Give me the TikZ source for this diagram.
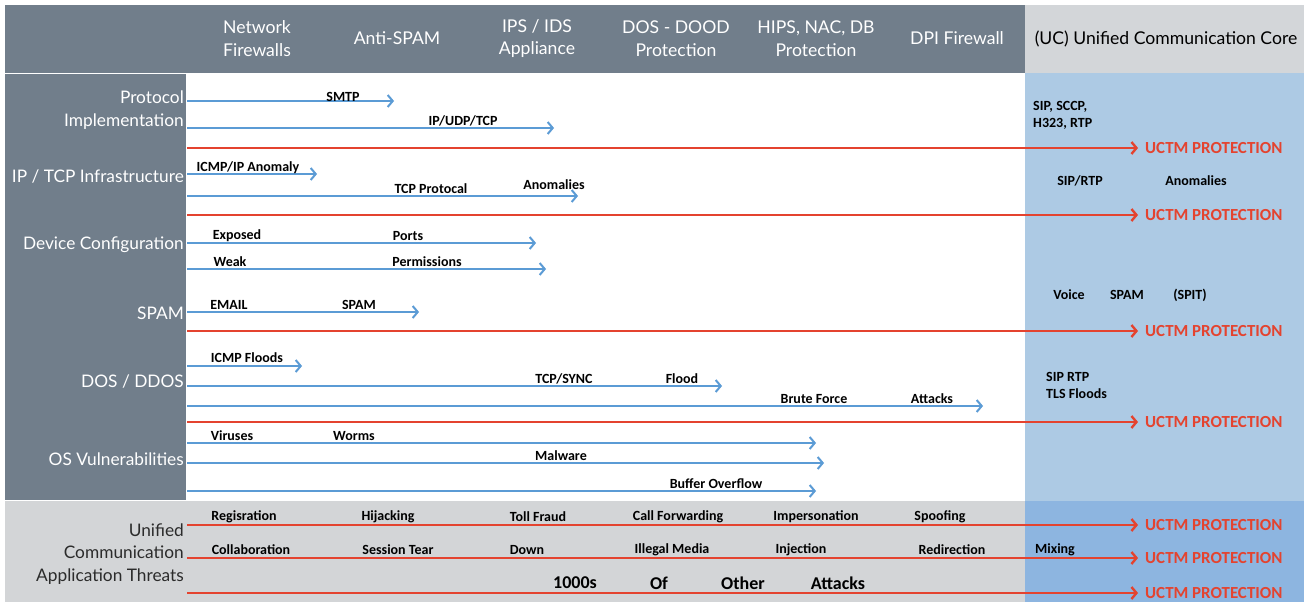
\documentclass[tikz,border=0pt]{standalone}
\usepackage{fontspec}
\setmainfont{Lato}
\newfontfamily\lblfont{Carlito}
\usetikzlibrary{arrows.meta}
\definecolor{hdrgrey}{HTML}{717E8B}
\definecolor{ucgrey}{HTML}{D3D6D9}
\definecolor{ucblue}{HTML}{ADCAE4}
\definecolor{botgrey}{HTML}{D3D5D7}
\definecolor{botblue}{HTML}{8DB5E0}
\definecolor{arrblue}{HTML}{5B9BD5}
\definecolor{arrred}{HTML}{E4432F}
\definecolor{txtdark}{HTML}{2B2B2B}
\begin{document}
\begin{tikzpicture}[x=1pt,y=-1pt,
  hd/.style={text=white,font=\fontsize{17.6}{22.5}\selectfont,align=center,inner sep=0pt},
  lf/.style={text=white,font=\fontsize{17.3}{22.5}\selectfont,align=right,anchor=east,inner sep=0pt},
  lfd/.style={lf,text=txtdark},
  lb/.style={text=black,font=\lblfont\bfseries\fontsize{14}{17}\selectfont,inner sep=0pt},
  lbl/.style={lb,anchor=west,align=left},
  lbbig/.style={lb,font=\lblfont\bfseries\fontsize{18}{20}\selectfont},
  uctm/.style={text=arrred,font=\lblfont\bfseries\fontsize{16.9}{19}\selectfont,anchor=west,inner sep=0pt},
  bluearrow/.style={draw=arrblue,line width=2pt,-{Straight Barb[length=5pt,width=12pt,line width=2pt]}},
  redarrow/.style={draw=arrred,line width=2.4pt,-{Straight Barb[length=5pt,width=12pt,line width=2.4pt]}}]
\useasboundingbox (0,0) rectangle (1304,602);
\fill[white] (0,0) rectangle (1304,602);
% backgrounds
\fill[hdrgrey] (5,5) rectangle (1025,73);
\fill[ucgrey] (1025,5) rectangle (1304,73);
\fill[hdrgrey] (5,74) rectangle (186,500);
\fill[ucblue] (1025,73) rectangle (1304,501);
\fill[botgrey] (5,501) rectangle (1025,602);
\fill[botblue] (1025,501) rectangle (1304,602);
% header
\node[hd] (h1) at (257,38.5) {Network\\Firewalls};
\node[hd] (h2) at (397,38.5) {Anti-SPAM};
\node[hd] (h3) at (537,38.5) {IPS / IDS\\Appliance};
\node[hd] (h4) at (676,38.5) {DOS - DOOD\\Protection};
\node[hd] (h5) at (816,38.5) {HIPS, NAC, DB\\Protection};
\node[hd] (h6) at (957,38.5) {DPI Firewall};
\node[hd,text=black] (h7) at (1166,38.5) {(UC) Unified Communication Core};
% left labels
\node[lf] (l1) at (184,110) {Protocol\\Implementation};
\node[lf] (l2) at (184,177) {IP / TCP Infrastructure};
\node[lf] (l3) at (184,245) {Device Configuration};
\node[lf] (l4) at (184,313) {SPAM};
\node[lf] (l5) at (184,382) {DOS / DDOS};
\node[lf] (l6) at (184,459) {OS Vulnerabilities};
\node[lfd] (l7) at (184,554) {Unified\\Communication\\Application Threats};
% start and end coordinates
\coordinate (s1) at (187,101); \coordinate (e1) at (394,101);
\coordinate (s2) at (187,128); \coordinate (e2) at (554,128);
\coordinate (s3) at (187,174); \coordinate (e3) at (317,174);
\coordinate (s4) at (187,196); \coordinate (e4) at (578,196);
\coordinate (s5) at (187,243); \coordinate (e5) at (536,243);
\coordinate (s6) at (187,269); \coordinate (e6) at (546,269);
\coordinate (s7) at (187,312); \coordinate (e7) at (419,312);
\coordinate (s8) at (187,366); \coordinate (e8) at (302,366);
\coordinate (s9) at (187,386); \coordinate (e9) at (722,386);
\coordinate (s10) at (187,406); \coordinate (e10) at (983,406);
\coordinate (s11) at (187,443); \coordinate (e11) at (816,443);
\coordinate (s12) at (187,463); \coordinate (e12) at (824,463);
\coordinate (s13) at (187,491); \coordinate (e13) at (816,491);
\foreach \i in {1,...,13} {\draw[bluearrow] (s\i) -- (e\i);}
% arrow labels
\node[lb] (t1) at (343,97) {SMTP};
\node[lb] (t2) at (463,121) {IP/UDP/TCP};
\node[lb] (t3) at (248,168) {ICMP/IP Anomaly};
\node[lb] (t4) at (431,189) {TCP Protocal};
\node[lb] (t5) at (554,185) {Anomalies};
\node[lb] (t6) at (237,236) {Exposed};
\node[lb] (t7) at (408,236) {Ports};
\node[lb] (t8) at (230,262) {Weak};
\node[lb] (t9) at (427,262) {Permissions};
\node[lb] (t10) at (229,305) {EMAIL};
\node[lb] (t11) at (359,305) {SPAM};
\node[lb] (t12) at (247,358) {ICMP Floods};
\node[lb] (t13) at (564,379) {TCP/SYNC};
\node[lb] (t14) at (682,379) {Flood};
\node[lb] (t15) at (814,399) {Brute Force};
\node[lb] (t16) at (932,399) {Attacks};
\node[lb] (t17) at (232,436) {Viruses};
\node[lb] (t18) at (354,436) {Worms};
\node[lb] (t19) at (561,456) {Malware};
\node[lb] (t20) at (716,484) {Buffer Overflow};
% UC column labels
\node[lbl] (c1) at (1033,115) {SIP, SCCP,\\H323, RTP};
\node[lb] (c2) at (1080,181) {SIP/RTP};
\node[lb] (c3) at (1196,181) {Anomalies};
\node[lb] (c4) at (1069,295) {Voice};
\node[lb] (c5) at (1127,295) {SPAM};
\node[lb] (c6) at (1190,295) {(SPIT)};
\node[lbl] (c7) at (1046,385) {SIP RTP\\TLS Floods};
% bottom labels
\node[lb] (b1) at (244,517) {Regisration};
\node[lb] (b2) at (388,517) {Hijacking};
\node[lb] (b3) at (538,517) {Toll Fraud};
\node[lb] (b4) at (678,517) {Call Forwarding};
\node[lb] (b5) at (816,517) {Impersonation};
\node[lb] (b6) at (940,517) {Spoofing};
\node[lb] (b7) at (251,550) {Collaboration};
\node[lb] (b8) at (398,550) {Session Tear};
\node[lb] (b9) at (527,550) {Down};
\node[lb] (b10) at (672,550) {Illegal Media};
\node[lb] (b11) at (801,550) {Injection};
\node[lb] (b12) at (952,550) {Redirection};
\node[lb] (b13) at (1055,550) {Mixing};
\node[lbbig] (b14) at (575,583) {1000s};
\node[lbbig] (b15) at (659,583) {Of};
\node[lbbig] (b16) at (743,583) {Other};
\node[lbbig] (b17) at (838,583) {Attacks};
% UCTM protection arrows
\node[uctm] (u1) at (1145,148) {UCTM PROTECTION};
\node[uctm] (u2) at (1145,215) {UCTM PROTECTION};
\node[uctm] (u3) at (1145,331) {UCTM PROTECTION};
\node[uctm] (u4) at (1145,422) {UCTM PROTECTION};
\node[uctm] (u5) at (1145,525) {UCTM PROTECTION};
\node[uctm] (u6) at (1145,558) {UCTM PROTECTION};
\node[uctm] (u7) at (1145,593) {UCTM PROTECTION};
\coordinate (r1) at (187,148);
\coordinate (r2) at (187,215);
\coordinate (r3) at (187,331);
\coordinate (r4) at (187,422);
\coordinate (r5) at (187,525);
\coordinate (r6) at (187,558);
\coordinate (r7) at (187,593);
\foreach \i in {1,...,7} {\draw[redarrow,shorten >=7pt] (r\i) -- (u\i.west);}
\end{tikzpicture}
\end{document}
